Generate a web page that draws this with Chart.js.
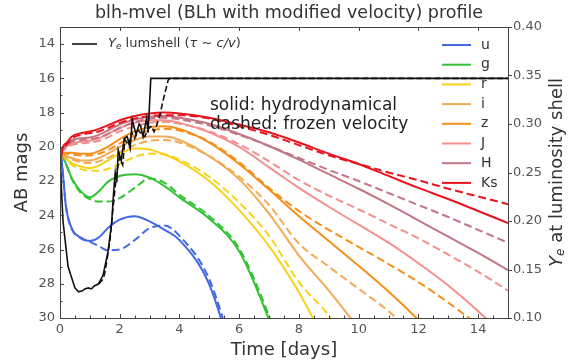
<!DOCTYPE html>
<html>
<head>
<meta charset="utf-8">
<script src="https://cdn.jsdelivr.net/npm/chart.js@4.4.1/dist/chart.umd.min.js"></script>
<style>
  html, body { margin: 0; padding: 0; background: #fff; }
</style>
</head>
<body>
<canvas id="chart" width="578" height="362"></canvas>
<script>
// time grid (days) shared by the band light curves
const times = [0.01, 0.05, 0.2, 0.4, 0.7, 1.0, 1.3, 1.6, 2.0, 2.5, 3.0, 3.5, 4, 5, 6, 7, 8, 9, 10, 11, 12, 13, 14, 15];

const bands = ['u', 'g', 'r', 'i', 'z', 'J', 'H', 'Ks'];

// AB mags, solid = hydrodynamical
const uSolid = [20.6, 20.8, 23.5, 24.8, 25.3, 25.5, 25.3, 24.75, 24.25, 24.05, 24.35, 24.85, 25.45, 28.05, 33.6, null, null, null, null, null, null, null, null, null];
const gSolid = [20.5, 20.5, 21.0, 21.85, 22.6, 22.95, 22.6, 22.05, 21.7, 21.6, 21.8, 22.3, 22.95, 24.2, 26.1, 30.1, 35, null, null, null, null, null, null, null];
const rSolid = [21.8, 20.4, 20.7, 20.95, 21.15, 21.25, 21.1, 20.8, 20.4, 20.1, 20.15, 20.45, 20.85, 22.0, 23.7, 25.8, 28.5, 31.8, null, null, null, null, null, null];
const iSolid = [21.8, 20.4, 20.55, 20.65, 20.8, 20.8, 20.65, 20.4, 20.0, 19.6, 19.4, 19.4, 19.6, 20.55, 21.9, 23.9, 26.35, 28.4, 30.6, null, null, null, null, null];
const zSolid = [21.8, 20.4, 20.35, 20.35, 20.4, 20.4, 20.25, 20.0, 19.55, 19.1, 18.85, 18.8, 18.95, 19.75, 21.0, 22.5, 24.05, 25.5, 26.95, 28.45, 30.1, null, null, null];
const JSolid = [21.8, 20.3, 20.0, 19.8, 19.7, 19.65, 19.5, 19.25, 18.9, 18.6, 18.45, 18.45, 18.6, 19.15, 20.0, 21.2, 22.4, 23.5, 24.55, 25.6, 26.8, 28.1, 29.6, 31.2];
const HSolid = [21.8, 20.3, 19.9, 19.6, 19.5, 19.45, 19.3, 19.05, 18.7, 18.4, 18.25, 18.2, 18.3, 18.65, 19.25, 19.95, 20.75, 21.6, 22.45, 23.35, 24.3, 25.25, 26.2, 27.2];
const KsSolid = [22.0, 20.3, 19.8, 19.4, 19.2, 19.1, 18.95, 18.75, 18.45, 18.2, 18.05, 18.0, 18.05, 18.3, 18.7, 19.15, 19.75, 20.4, 21.0, 21.7, 22.4, 23.05, 23.75, 24.45];

// AB mags, dashed = frozen velocity
const uDashed = [20.6, 20.8, 23.5, 24.8, 25.35, 25.55, 25.8, 26.05, 26.0, 25.45, 24.75, 24.6, 25.2, 27.75, 33.2, null, null, null, null, null, null, null, null, null];
const gDashed = [20.5, 20.5, 21.0, 21.9, 22.7, 23.05, 23.2, 23.2, 23.0, 22.4, 21.85, 22.1, 22.8, 24.05, 25.95, 29.9, 35, null, null, null, null, null, null, null];
const rDashed = [21.8, 20.4, 20.75, 21.05, 21.3, 21.4, 21.4, 21.3, 21.0, 20.6, 20.4, 20.45, 20.75, 21.75, 23.25, 25.2, 27.9, 29.85, 32.5, null, null, null, null, null];
const iDashed = [21.8, 20.4, 20.6, 20.75, 20.9, 20.95, 20.85, 20.65, 20.3, 19.9, 19.65, 19.6, 19.75, 20.55, 21.75, 23.4, 25.65, 27.0, 28.3, 29.6, 31.2, null, null, null];
const zDashed = [21.8, 20.4, 20.4, 20.45, 20.5, 20.5, 20.4, 20.2, 19.8, 19.35, 19.05, 18.95, 19.05, 19.7, 20.9, 22.4, 23.75, 24.85, 25.85, 26.85, 27.9, 29.1, 30.4, null];
const JDashed = [21.8, 20.4, 20.1, 19.9, 19.8, 19.75, 19.65, 19.45, 19.1, 18.8, 18.6, 18.55, 18.65, 19.1, 19.85, 20.85, 21.95, 22.85, 23.65, 24.5, 25.35, 26.3, 27.3, 28.4];
const HDashed = [21.8, 20.4, 20.0, 19.7, 19.6, 19.55, 19.45, 19.25, 18.9, 18.55, 18.35, 18.3, 18.4, 18.75, 19.3, 19.95, 20.65, 21.35, 22.0, 22.7, 23.4, 24.1, 24.85, 25.6];
const KsDashed = [22.0, 20.4, 19.9, 19.5, 19.3, 19.2, 19.1, 18.9, 18.6, 18.35, 18.2, 18.15, 18.15, 18.35, 18.8, 19.3, 19.9, 20.5, 21.0, 21.5, 21.95, 22.45, 22.9, 23.35];

// Ye at the luminosity shell (right axis)
const yeSolidTimes = [0.02, 0.1, 0.27, 0.5, 0.62, 0.75, 0.83, 0.95, 1.05, 1.15, 1.28, 1.44, 1.6, 1.73, 1.8, 1.85, 1.9, 1.95, 2.05, 2.15, 2.25, 2.35, 2.42, 2.55, 2.65, 2.7, 2.78, 2.9, 2.95, 3.04, 15];
const yeSolid = [0.250, 0.200, 0.153, 0.131, 0.127, 0.128, 0.130, 0.131, 0.130, 0.133, 0.135, 0.144, 0.167, 0.198, 0.232, 0.250, 0.240, 0.273, 0.262, 0.285, 0.287, 0.275, 0.304, 0.289, 0.300, 0.298, 0.287, 0.306, 0.291, 0.347, 0.347];
const yeDashedTimes = [1.3, 1.44, 1.5, 1.67, 1.78, 1.9, 2.0, 2.1, 2.17, 2.3, 2.4, 2.5, 2.6, 2.75, 2.84, 2.95, 3.07, 3.15, 3.23, 3.35, 3.45, 3.62, 3.67, 15];
const yeDashed = [0.135, 0.140, 0.146, 0.179, 0.215, 0.250, 0.266, 0.258, 0.284, 0.278, 0.291, 0.285, 0.294, 0.289, 0.287, 0.295, 0.298, 0.292, 0.298, 0.310, 0.324, 0.345, 0.347, 0.347];

const solidSeries = [uSolid, gSolid, rSolid, iSolid, zSolid, JSolid, HSolid, KsSolid];
const dashedSeries = [uDashed, gDashed, rDashed, iDashed, zDashed, JDashed, HDashed, KsDashed];

const FONT = 'DejaVu Sans';
const bandColors = {
  u: '#4169e1', g: '#34c234', r: '#f5d31a', i: '#f2aa55',
  z: '#f58f1c', J: '#f29090', H: '#c27585', Ks: '#e8141e'
};

function pts(xs, ys) {
  return xs.map((t, i) => ({ x: t, y: ys[i] }));
}

const datasets = [
  {
    label: 'Ye lumshell', data: pts(yeSolidTimes, yeSolid), yAxisID: 'y2',
    borderColor: '#111', borderWidth: 1.6, pointRadius: 0, tension: 0, clip: 0
  },
  {
    label: 'Ye lumshell frozen', data: pts(yeDashedTimes, yeDashed), yAxisID: 'y2',
    borderColor: '#111', borderWidth: 1.6, borderDash: [6, 3], pointRadius: 0, tension: 0, clip: 0
  }
];

// reversed so Ks sits on top, u at the bottom
for (let b = bands.length - 1; b >= 0; b--) {
  const col = bandColors[bands[b]];
  datasets.push({
    label: bands[b], data: pts(times, solidSeries[b]), yAxisID: 'y',
    borderColor: col, borderWidth: 2, pointRadius: 0,
    cubicInterpolationMode: 'monotone', clip: 0
  });
  datasets.push({
    label: bands[b] + ' frozen', data: pts(times, dashedSeries[b]), yAxisID: 'y',
    borderColor: col, borderWidth: 2, borderDash: [8, 4], pointRadius: 0,
    cubicInterpolationMode: 'monotone', clip: 0
  });
}

// frame, inward ticks, legends, notes and the right axis title
const decor = {
  id: 'decor',
  afterDatasetsDraw(chart) {
    const { ctx, chartArea: a, scales } = chart;
    const x = scales.x, y = scales.y, y2 = scales.y2;
    ctx.save();
    ctx.strokeStyle = '#444';
    ctx.lineWidth = 1;
    ctx.beginPath();
    for (let t = 0; t <= 15; t += 0.5) {
      const px = Math.round(x.getPixelForValue(t)) + 0.5;
      const major = t % 2 === 0;
      ctx.moveTo(px, a.bottom);
      ctx.lineTo(px, a.bottom - (major ? 4 : 2.5));
      if (major) {
        ctx.moveTo(px, a.top);
        ctx.lineTo(px, a.top + 4);
      }
    }
    for (let m = 14; m <= 30; m++) {
      const py = Math.round(y.getPixelForValue(m)) + 0.5;
      ctx.moveTo(a.left, py);
      ctx.lineTo(a.left + (m % 2 === 0 ? 4 : 2.5), py);
    }
    y2.ticks.forEach(tk => {
      const py = Math.round(y2.getPixelForValue(tk.value)) + 0.5;
      ctx.moveTo(a.right, py);
      ctx.lineTo(a.right + 4, py);
    });
    ctx.stroke();
    ctx.strokeRect(Math.round(a.left) + 0.5, Math.round(a.top) + 0.5,
      Math.round(a.right - a.left), Math.round(a.bottom - a.top));

    // band legend
    ctx.textBaseline = 'middle';
    ctx.textAlign = 'left';
    ctx.font = '14px "' + FONT + '"';
    bands.forEach((b, i) => {
      const ly = 45 + i * 19.7;
      ctx.strokeStyle = bandColors[b];
      ctx.lineWidth = 2;
      ctx.beginPath();
      ctx.moveTo(442, ly);
      ctx.lineTo(471, ly);
      ctx.stroke();
      ctx.fillStyle = '#333';
      ctx.fillText(b, 481, ly);
    });

    // Ye legend
    ctx.strokeStyle = '#111';
    ctx.lineWidth = 1.6;
    ctx.beginPath();
    ctx.moveTo(72, 44);
    ctx.lineTo(97, 44);
    ctx.stroke();
    ctx.fillStyle = '#333';
    let cx = 108;
    const parts = [
      ['italic 13px "' + FONT + '"', 'Y', 0],
      ['italic 9px "' + FONT + '"', 'e', 3],
      ['13px "' + FONT + '"', ' lumshell (', 0],
      ['italic 13px "' + FONT + '"', 'τ ~ c/v', 0],
      ['13px "' + FONT + '"', ')', 0]
    ];
    parts.forEach(([f, s, dy]) => {
      ctx.font = f;
      ctx.fillText(s, cx, 44 + dy);
      cx += ctx.measureText(s).width;
    });

    // notes
    ctx.font = '17px "' + FONT + '"';
    ctx.fillStyle = '#222';
    ctx.fillText('solid: hydrodynamical', 210, 106);
    ctx.fillText('dashed: frozen velocity', 210, 125);

    // right axis title, reading upwards
    const rParts = [
      ['italic 18px "' + FONT + '"', 'Y', 0],
      ['italic 12px "' + FONT + '"', 'e', 4],
      ['18px "' + FONT + '"', ' at luminosity shell', 0]
    ];
    let total = 0;
    rParts.forEach(([f, s]) => { ctx.font = f; total += ctx.measureText(s).width; });
    ctx.translate(557, (a.top + a.bottom) / 2);
    ctx.rotate(-Math.PI / 2);
    ctx.fillStyle = '#333';
    let rx = -total / 2;
    rParts.forEach(([f, s, dy]) => {
      ctx.font = f;
      ctx.fillText(s, rx, dy);
      rx += ctx.measureText(s).width;
    });
    ctx.restore();
  }
};

new Chart(document.getElementById('chart'), {
  type: 'line',
  data: { datasets: datasets },
  options: {
    responsive: false,
    animation: false,
    parsing: true,
    layout: { padding: 0 },
    plugins: {
      legend: { display: false },
      tooltip: { enabled: false },
      title: {
        display: true,
        text: 'blh-mvel (BLh with modified velocity) profile',
        color: '#333',
        font: { family: FONT, size: 17.5, weight: 'normal' },
        padding: { top: 2.5, bottom: 3.5 }
      }
    },
    scales: {
      x: {
        type: 'linear', position: 'bottom', min: 0, max: 15,
        ticks: { stepSize: 2, includeBounds: false, color: '#555', padding: 4, maxRotation: 0,
          font: { family: FONT, size: 13 } },
        grid: { display: false, drawTicks: false },
        border: { display: false },
        title: { display: true, text: 'Time [days]', color: '#333',
          font: { family: FONT, size: 18 }, padding: { top: 0, bottom: 1 } },
        afterFit: s => { s.height = 44; }
      },
      y: {
        type: 'linear', position: 'left', min: 13, max: 30, reverse: true,
        ticks: { stepSize: 2, includeBounds: false, color: '#555', padding: 5,
          font: { family: FONT, size: 13 } },
        grid: { display: false, drawTicks: false },
        border: { display: false },
        title: { display: true, text: 'AB mags', color: '#333',
          font: { family: FONT, size: 18 }, padding: { top: 12, bottom: 0 } },
        afterFit: s => { s.width = 60; }
      },
      y2: {
        type: 'linear', position: 'right', min: 0.1, max: 0.4,
        ticks: { stepSize: 0.05, color: '#555', padding: 5,
          font: { family: FONT, size: 13 },
          callback: v => v.toFixed(2) },
        grid: { display: false, drawTicks: false },
        border: { display: false },
        afterFit: s => { s.width = 70; }
      }
    }
  },
  plugins: [decor]
});
</script>
</body>
</html>
